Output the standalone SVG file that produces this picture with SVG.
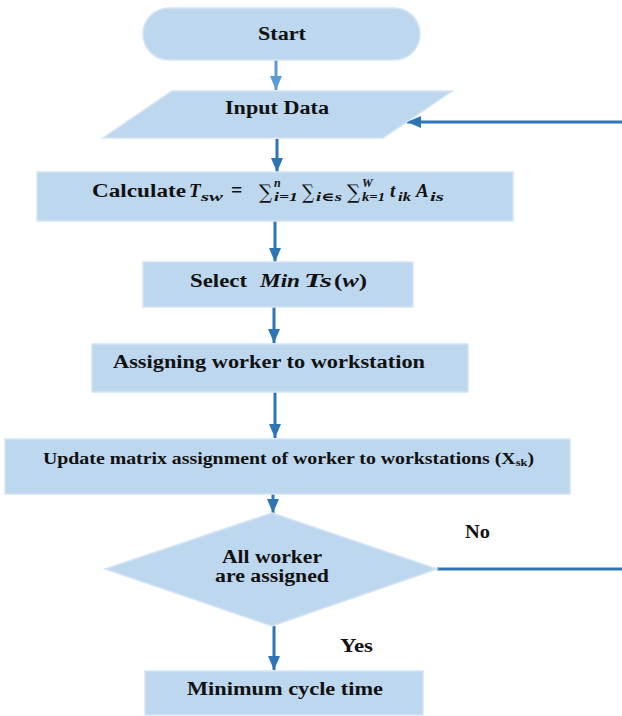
<svg xmlns="http://www.w3.org/2000/svg" width="622" height="716" viewBox="0 0 622 716" font-family="Liberation Serif, DejaVu Serif, serif">
  <style>
    .shape { fill: #BDD7EE; stroke: #D3E4F4; stroke-width: 1.5; }
    text { font-family: 'Liberation Serif', 'DejaVu Serif', serif; font-weight: bold; fill: #111; }
    .lbl { font-size: 18px; }
    .mi { font-style: italic; }
    .sum { font-family: 'DejaVu Serif', 'Liberation Serif', serif; font-weight: normal; font-size: 20px; }
    .flow { fill: none; stroke: #2E75B6; stroke-width: 3; }
    .flow.light { stroke: #5B9BD5; }
  </style>
  <defs>
    <marker id="head" viewBox="0 0 14 12" refX="14" refY="6" markerWidth="14" markerHeight="12" markerUnits="userSpaceOnUse" orient="auto">
      <path d="M0,0 L14,6 L0,12 Z" fill="#2E75B6"/>
    </marker>
    <marker id="headLight" viewBox="0 0 14 12" refX="14" refY="6" markerWidth="14" markerHeight="12" markerUnits="userSpaceOnUse" orient="auto">
      <path d="M0,0 L14,6 L0,12 Z" fill="#5B9BD5"/>
    </marker>
  </defs>
  <rect width="622" height="716" fill="#ffffff"/>

  <!-- connectors -->
  <g id="connectors">
    <line class="flow light" x1="276" y1="60" x2="276" y2="90" marker-end="url(#headLight)"/>
    <line class="flow" x1="277" y1="139" x2="277" y2="172" marker-end="url(#head)"/>
    <line class="flow" x1="275" y1="221" x2="275" y2="262" marker-end="url(#head)"/>
    <line class="flow" x1="274" y1="307" x2="274" y2="343" marker-end="url(#head)"/>
    <line class="flow" x1="275" y1="392" x2="275" y2="438" marker-end="url(#head)"/>
    <line class="flow" x1="273" y1="494" x2="273" y2="513" marker-end="url(#head)"/>
    <line class="flow" x1="274" y1="626" x2="274" y2="670" marker-end="url(#head)"/>
    <line class="flow" x1="437" y1="569" x2="622" y2="569" stroke-width="2.5"/>
    <line class="flow" x1="622" y1="122" x2="407" y2="122" stroke-width="2.5" marker-end="url(#head)"/>
    <text class="lbl" x="465" y="538" textLength="25" lengthAdjust="spacingAndGlyphs">No</text>
    <text class="lbl" x="340" y="652" textLength="33" lengthAdjust="spacingAndGlyphs">Yes</text>
  </g>

  <g id="start">
    <rect class="shape" x="143" y="8" width="277" height="52" rx="26" ry="26"/>
    <text class="lbl" x="258" y="40" textLength="48" lengthAdjust="spacingAndGlyphs">Start</text>
  </g>

  <g id="input-data">
    <polygon class="shape" points="172,91 452,91 383,138 103,138"/>
    <text class="lbl" x="225" y="114" textLength="104" lengthAdjust="spacingAndGlyphs">Input Data</text>
  </g>

  <g id="calculate">
    <rect class="shape" x="37" y="172" width="476" height="49"/>
    <text class="lbl" x="92" y="197" textLength="94" lengthAdjust="spacingAndGlyphs">Calculate</text>
    <text class="mi" x="189" y="197" font-size="19">T</text>
    <text class="mi" x="201" y="201" font-size="13" textLength="22" lengthAdjust="spacingAndGlyphs">sw</text>
    <text x="231" y="197" font-size="20">=</text>
    <text class="sum" x="259" y="199" textLength="13" lengthAdjust="spacingAndGlyphs">∑</text>
    <text class="mi" x="274" y="187" font-size="12">n</text>
    <text class="mi" x="274" y="201" font-size="12" textLength="24" lengthAdjust="spacingAndGlyphs">i=1</text>
    <text class="sum" x="302" y="199" textLength="12" lengthAdjust="spacingAndGlyphs">∑</text>
    <text class="mi" x="316" y="201" font-size="12" textLength="26" lengthAdjust="spacingAndGlyphs">i∈s</text>
    <text class="sum" x="347" y="199" textLength="13" lengthAdjust="spacingAndGlyphs">∑</text>
    <text class="mi" x="362" y="187" font-size="12">W</text>
    <text class="mi" x="362" y="201" font-size="12" textLength="23" lengthAdjust="spacingAndGlyphs">k=1</text>
    <text class="mi" x="390" y="197" font-size="19">t</text>
    <text class="mi" x="398" y="201" font-size="13" textLength="13" lengthAdjust="spacingAndGlyphs">ik</text>
    <text class="mi" x="416" y="197" font-size="19">A</text>
    <text class="mi" x="430" y="201" font-size="13" textLength="14" lengthAdjust="spacingAndGlyphs">is</text>
  </g>

  <g id="select">
    <rect class="shape" x="143" y="262" width="270" height="45"/>
    <text class="lbl" x="190" y="287" textLength="57" lengthAdjust="spacingAndGlyphs">Select</text>
    <text class="mi" x="260" y="287" font-size="19" textLength="40" lengthAdjust="spacingAndGlyphs">Min</text>
    <text class="mi" x="304" y="287" font-size="19" textLength="28" lengthAdjust="spacingAndGlyphs">Ts</text>
    <text x="334" y="287" font-size="19" textLength="33" lengthAdjust="spacingAndGlyphs">(<tspan class="mi">w</tspan>)</text>
  </g>

  <g id="assign">
    <rect class="shape" x="92" y="344" width="376" height="48"/>
    <text class="lbl" x="113" y="368" textLength="312" lengthAdjust="spacingAndGlyphs">Assigning worker to workstation</text>
  </g>

  <g id="update">
    <rect class="shape" x="5" y="439" width="565" height="55"/>
    <text x="43" y="464" font-size="16" textLength="491" lengthAdjust="spacingAndGlyphs">Update matrix assignment of worker to workstations (X<tspan font-size="10" dy="2">sk</tspan><tspan dy="-2">)</tspan></text>
  </g>

  <g id="decision">
    <polygon class="shape" points="272,513 437,569 272,626 105,569"/>
    <text class="lbl" x="222" y="563" textLength="100" lengthAdjust="spacingAndGlyphs">All worker</text>
    <text class="lbl" x="215" y="582" textLength="114" lengthAdjust="spacingAndGlyphs">are assigned</text>
  </g>

  <g id="result">
    <rect class="shape" x="145" y="671" width="278" height="44"/>
    <text class="lbl" x="187" y="695" textLength="196" lengthAdjust="spacingAndGlyphs">Minimum cycle time</text>
  </g>
</svg>
